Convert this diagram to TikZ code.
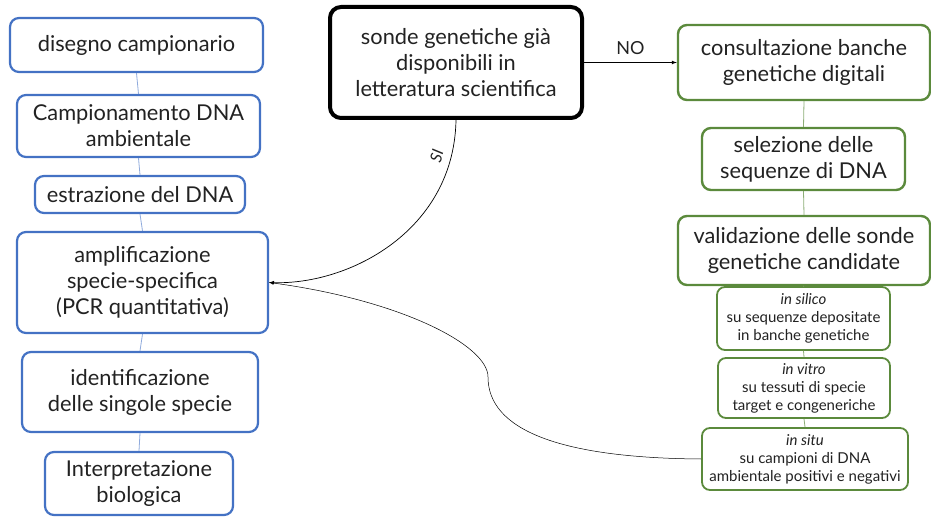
\documentclass[tikz,border=0pt]{standalone}
\usepackage{fontspec}
\setmainfont{Lato}
\usepackage{tikz}
\usetikzlibrary{arrows, positioning}
\definecolor{boxblue}{HTML}{4472C4}
\definecolor{boxgreen}{HTML}{5B8A3C}
\definecolor{txtgrey}{HTML}{222222}
\tikzset{
	bluebox/.style={draw=boxblue, line width=2.2pt, rounded corners=9pt, fill=white},
	greenbox/.style={draw=boxgreen, line width=2.4pt, rounded corners=9pt, fill=white},
	subbox/.style={draw=boxgreen, line width=1.8pt, rounded corners=8pt, fill=white},
	mainbox/.style={draw=black, line width=4pt, rounded corners=11pt, fill=white},
	bigtext/.style={align=center, text=txtgrey, font=\fontsize{21.8}{26}\selectfont},
	smalltext/.style={align=center, text=txtgrey, font=\fontsize{15}{18}\selectfont},
	bluelink/.style={draw=boxblue!60, line width=0.8pt},
	greenlink/.style={draw=boxgreen!70, line width=0.8pt}
}

\begin{document}
\begin{tikzpicture}[x=1pt, y=-1pt]
		\useasboundingbox (0,0) rectangle (931,518);
		
		% colonna sinistra
		\node[bluebox, minimum width=253pt, minimum height=54pt] (disegno) at (136.5,45) {};
		\node[bigtext] at (disegno) {disegno campionario};
		
		\node[bluebox, minimum width=243pt, minimum height=62pt] (campionamento) at (138.5,126) {};
		\node[bigtext] at (campionamento) {Campionamento DNA\\ambientale};
		
		\node[bluebox, minimum width=210pt, minimum height=37pt] (estrazione) at (140,194.5) {};
		\node[bigtext] at (estrazione) {estrazione del DNA};
		
		\node[bluebox, minimum width=251pt, minimum height=101pt] (amplificazione) at (142.5,282.5) {};
		\node[bigtext] at (amplificazione) {amplificazione\\specie-specifica\\(PCR quantitativa)};
		
		\node[bluebox, minimum width=236pt, minimum height=80pt] (identificazione) at (140,392) {};
		\node[bigtext] at (identificazione) {identificazione\\delle singole specie};
		
		\node[bluebox, minimum width=188pt, minimum height=63pt] (interpretazione) at (139,483.5) {};
		\node[bigtext] at (interpretazione) {Interpretazione\\biologica};
		
		% domanda centrale
		\node[mainbox, minimum width=252pt, minimum height=111pt] (sonde) at (456,62.5) {};
		\node[bigtext] at (sonde) {sonde genetiche già\\disponibili in\\letteratura scientifica};
		
		% colonna destra
		\node[greenbox, minimum width=252pt, minimum height=75pt] (consultazione) at (804,62.5) {};
		\node[bigtext] at (consultazione) {consultazione banche\\genetiche digitali};
		
		\node[greenbox, minimum width=203pt, minimum height=62pt] (selezione) at (803.5,159) {};
		\node[bigtext] at (selezione) {selezione delle\\sequenze di DNA};
		
		\node[greenbox, minimum width=252pt, minimum height=69pt] (validazione) at (804,250.5) {};
		\node[bigtext] at (validazione) {validazione delle sonde\\genetiche candidate};
		
		\node[subbox, minimum width=173pt, minimum height=63pt] (silico) at (803.5,318.5) {};
		\node[smalltext] at (silico) {\textit{in silico}\\su sequenze depositate\\in banche genetiche};
		
		\node[subbox, minimum width=172pt, minimum height=60pt] (vitro) at (804,388) {};
		\node[smalltext] at (vitro) {\textit{in vitro}\\su tessuti di specie\\target e congeneriche};
		
		\node[subbox, minimum width=206pt, minimum height=62pt] (situ) at (805,459) {};
		\node[smalltext] at (situ) {\textit{in situ}\\su campioni di DNA\\ambientale positivi e negativi};
		
		\draw[bluelink] (disegno.south) -- (campionamento.north);
		\draw[bluelink] (campionamento.south) -- (estrazione.north);
		\draw[bluelink] (estrazione.south) -- (amplificazione.north);
		\draw[bluelink] (amplificazione.south) -- (identificazione.north);
		\draw[bluelink] (identificazione.south) -- (interpretazione.north);
		
		\draw[greenlink] (consultazione.south) -- (selezione.north);
		\draw[greenlink] (selezione.south) -- (validazione.north);
		\draw[greenlink] (validazione.south) -- (silico.north);
		\draw[greenlink] (silico.south) -- (vitro.north);
		\draw[greenlink] (vitro.south) -- (situ.north);
		
		\draw[-latex, line width=0.7pt] (sonde.east) -- (consultazione.west) node[midway, above=4pt, bigtext, font=\fontsize{18}{20}\selectfont] {NO};
		
		\draw[-latex, line width=0.7pt] (sonde.south) .. controls (454,230) and (350,285) .. (amplificazione.east)
			node[pos=0.13, sloped, above=7pt, inner sep=1pt, text=txtgrey, font=\fontsize{16}{18}\itshape] {SI};
		
		\draw[-latex, line width=0.5pt] (situ.west) .. controls (560,458) and (488,430) .. (488,377)
			.. controls (488,345) and (400,300) .. (amplificazione.east);
	\end{tikzpicture}
\end{document}
